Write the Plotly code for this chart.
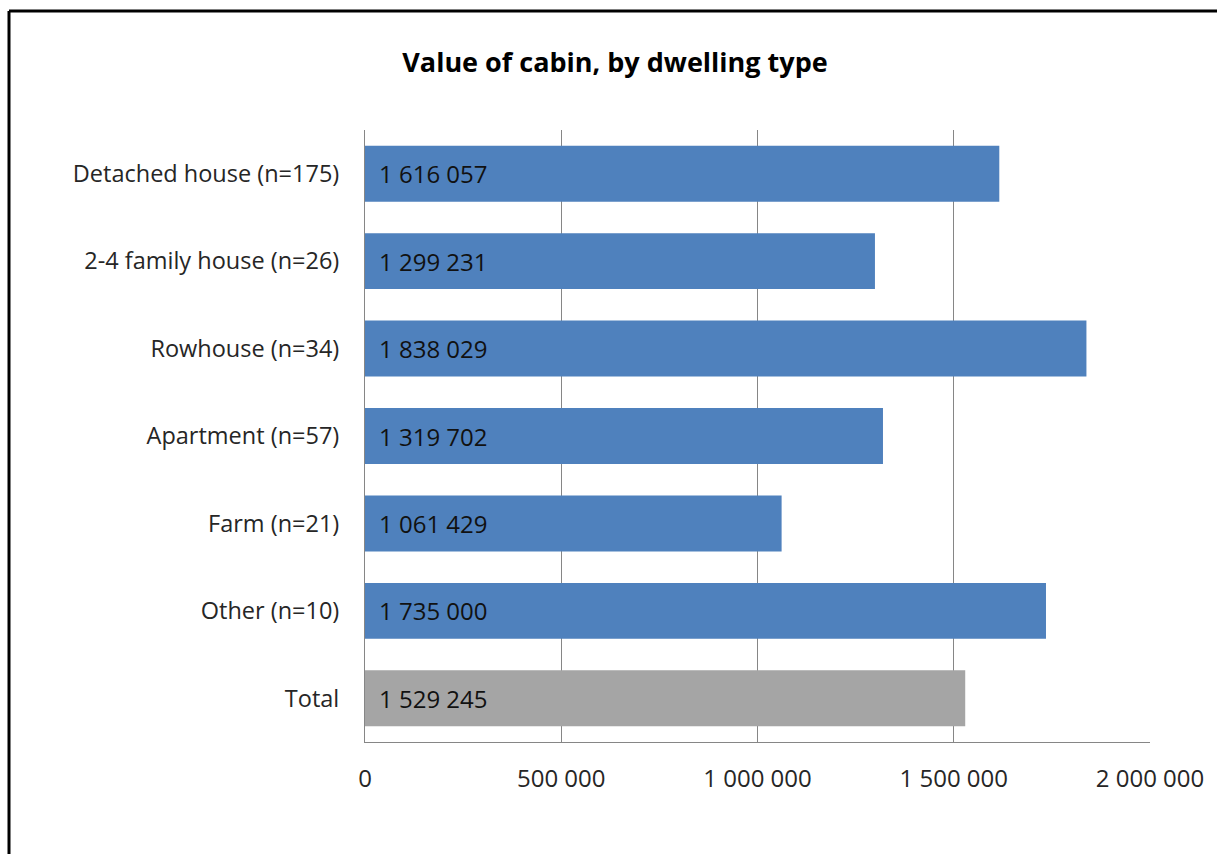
import plotly.graph_objects as go

categories = ["Detached house (n=175)", "2-4 family house (n=26)", "Rowhouse (n=34)",
              "Apartment (n=57)", "Farm (n=21)", "Other (n=10)", "Total"]
values = [1616057, 1299231, 1838029, 1319702, 1061429, 1735000, 1529245]
colors = ["#4F81BD"] * 6 + ["#A5A5A5"]
tick_vals = [0, 500000, 1000000, 1500000, 2000000]

W, H = 1217, 854
L, R, T, B = 365, 1150, 130, 742

FONT = "Open Sans"

def fmt(v):
    return f"{v:,}".replace(",", " ")

fig = go.Figure()
fig.add_trace(go.Bar(
    x=values, y=categories, orientation="h",
    marker=dict(color=colors, line=dict(width=0)),
    width=0.64, hoverinfo="skip",
))

annotations = []
for c, v in zip(categories, values):
    annotations.append(dict(x=0, y=c, xref="x", yref="y", text=fmt(v), showarrow=False,
                            xanchor="left", yanchor="middle", xshift=12,
                            font=dict(family=FONT, size=24, color="#111111")))

pw, ph = R - L, B - T
def px(xp):
    return (xp - L) / pw
def py(yp):
    return (B - yp) / ph

shapes = [
    dict(type="line", xref="paper", yref="paper", x0=px(9), x1=px(1300), y0=py(11), y1=py(11),
         line=dict(color="black", width=3)),
    dict(type="line", xref="paper", yref="paper", x0=px(9), x1=px(9), y0=py(11), y1=py(900),
         line=dict(color="black", width=3)),
]

fig.update_layout(
    width=W, height=H,
    margin=dict(l=L, r=W - R, t=T, b=H - B, autoexpand=False),
    paper_bgcolor="white", plot_bgcolor="white",
    separators=". ",
    showlegend=False,
    bargap=0.36,
    font=dict(family=FONT, size=23.5, color="#262626"),
    title=dict(text="<b>Value of cabin, by dwelling type</b>", x=615 / W, xref="container",
               xanchor="center", y=1 - 63 / H, yref="container", yanchor="middle",
               font=dict(family=FONT, size=27, color="#000000")),
    xaxis=dict(range=[0, 2000000], tickvals=tick_vals, tickformat=",d",
               showgrid=True, gridcolor="#868686", gridwidth=1,
               showline=True, linecolor="#868686", linewidth=1,
               ticks="outside", ticklen=15, tickcolor="rgba(0,0,0,0)",
               zeroline=False, fixedrange=True,
               tickfont=dict(family=FONT, size=24, color="#262626")),
    yaxis=dict(autorange="reversed", showgrid=False,
               showline=True, linecolor="#868686", linewidth=1,
               ticks="outside", ticklen=20, tickcolor="rgba(0,0,0,0)",
               tickfont=dict(family=FONT, size=23.5, color="#262626")),
    annotations=annotations,
    shapes=shapes,
)

fig.write_html("out.html", config={"displayModeBar": False},
               post_script="document.body.style.margin='0';document.body.style.overflow='hidden';")
